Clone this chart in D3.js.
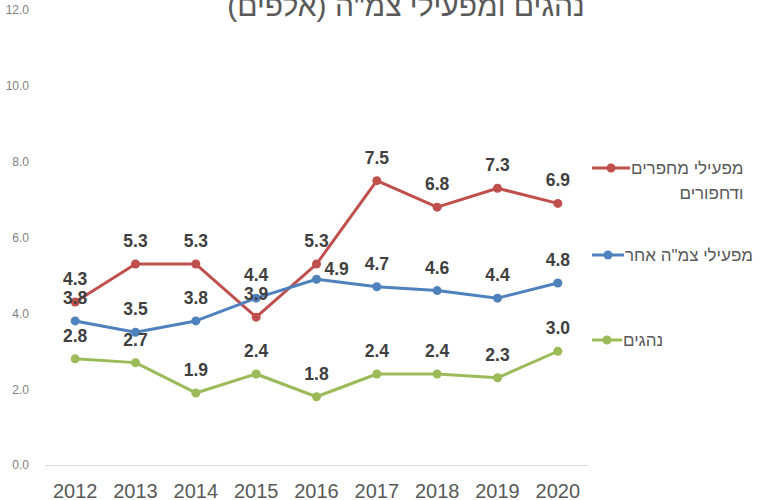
<!DOCTYPE html>
<html>
<head>
<meta charset="utf-8">
<script src="https://cdn.jsdelivr.net/npm/d3@7"></script>
<style>
  html, body { margin: 0; padding: 0; background: #fff; }
  svg { display: block; }
</style>
</head>
<body>
<svg id="chart" width="776" height="500"></svg>
<script>
// Years on the category axis
const years = [2012, 2013, 2014, 2015, 2016, 2017, 2018, 2019, 2020];
// Workers, thousands
const excavatorOps = [4.3, 5.3, 5.3, 3.9, 5.3, 7.5, 6.8, 7.3, 6.9];
const otherMachineOps = [3.8, 3.5, 3.8, 4.4, 4.9, 4.7, 4.6, 4.4, 4.8];
const drivers = [2.8, 2.7, 1.9, 2.4, 1.8, 2.4, 2.4, 2.3, 3.0];
const seriesNames = ["מפעילי מחפרים ודחפורים", "מפעילי צמ\"ה אחר", "נהגים"];
const yTicks = [0, 2, 4, 6, 8, 10, 12];
const title = "נהגים ומפעילי צמ\"ה (אלפים)";

const series = [
  { name: seriesNames[0], values: excavatorOps, color: "#c0504d", lines: ["מפעילי מחפרים", "ודחפורים"], keyEnd: 630 },
  { name: seriesNames[1], values: otherMachineOps, color: "#4f81bd", lines: [seriesNames[1]], keyEnd: 624 },
  { name: seriesNames[2], values: drivers, color: "#9bbb59", lines: [seriesNames[2]], keyEnd: 622 }
];

const svg = d3.select("#chart");
const font = "'Liberation Sans', Arial, sans-serif";

const x = d3.scaleBand().domain(years).range([45, 588]);
const y = d3.scaleLinear().domain([0, 12]).range([465, 10]);
const cx = d => x(d) + x.bandwidth() / 2;

// Title (its upper part runs past the top edge)
svg.append("text")
  .attr("x", 406).attr("y", 16)
  .attr("text-anchor", "middle")
  .attr("direction", "rtl")
  .attr("font-family", font)
  .attr("font-size", 30)
  .attr("fill", "#595959")
  .text(title);

// Value axis labels (no gridlines)
const yAxis = d3.axisLeft(y).tickValues(yTicks).tickFormat(d3.format(".1f")).tickSize(0).tickPadding(0);
const yg = svg.append("g").attr("transform", "translate(29,0)").call(yAxis);
yg.select(".domain").remove();
yg.selectAll("text")
  .attr("font-family", font)
  .attr("font-size", 12)
  .attr("fill", "#7f7f7f");

// Category axis
const xAxis = d3.axisBottom(x).tickSize(0).tickPadding(0);
const xg = svg.append("g").attr("transform", "translate(0,465)").call(xAxis);
xg.select(".domain").attr("stroke", "#d9d9d9").attr("stroke-width", 1.2);
xg.selectAll("text")
  .attr("y", 33).attr("dy", null)
  .attr("font-family", font)
  .attr("font-size", 20)
  .attr("fill", "#595959");

// Lines and markers
const line = d3.line().x((d, i) => cx(years[i])).y(d => y(d));
series.forEach(s => {
  svg.append("path")
    .datum(s.values)
    .attr("d", line)
    .attr("fill", "none")
    .attr("stroke", s.color)
    .attr("stroke-width", 3)
    .attr("stroke-linejoin", "round");
  svg.append("g").selectAll("circle")
    .data(s.values)
    .join("circle")
    .attr("cx", (d, i) => cx(years[i]))
    .attr("cy", d => y(d))
    .attr("r", 4.5)
    .attr("fill", s.color);
});

// Data labels, above each point (the 2016 label of the second series sits to the right)
series.forEach((s, si) => {
  svg.append("g").selectAll("text")
    .data(s.values)
    .join("text")
    .each(function (d, i) {
      const t = d3.select(this);
      const right = si === 1 && years[i] === 2016;
      t.attr("x", right ? cx(years[i]) + 8 : cx(years[i]))
       .attr("y", right ? y(d) - 4 : y(d) - 17)
       .attr("text-anchor", right ? "start" : "middle");
    })
    .attr("font-family", font)
    .attr("font-weight", "bold")
    .attr("font-size", 17.5)
    .attr("fill", "#404040")
    .text(d => d3.format(".1f")(d));
});

// Legend
const legendY = [168, 255, 340];
series.forEach((s, si) => {
  const ly = legendY[si];
  const g = svg.append("g");
  g.append("line")
    .attr("x1", 592).attr("x2", s.keyEnd)
    .attr("y1", ly).attr("y2", ly)
    .attr("stroke", s.color).attr("stroke-width", 3);
  g.append("circle").attr("cx", (592 + s.keyEnd) / 2).attr("cy", ly).attr("r", 4.5).attr("fill", s.color);
  const left = s.keyEnd + 1;
  const texts = s.lines.map((str, li) => g.append("text")
    .attr("y", ly + 6 + li * 25)
    .attr("text-anchor", "middle")
    .attr("direction", "rtl")
    .attr("font-family", font)
    .attr("font-size", 17)
    .attr("fill", "#595959")
    .text(str));
  const w0 = texts[0].node().getComputedTextLength();
  texts.forEach(t => {
    const w = t.node().getComputedTextLength();
    t.attr("x", left + w0 - w / 2);
  });
});
</script>
</body>
</html>
